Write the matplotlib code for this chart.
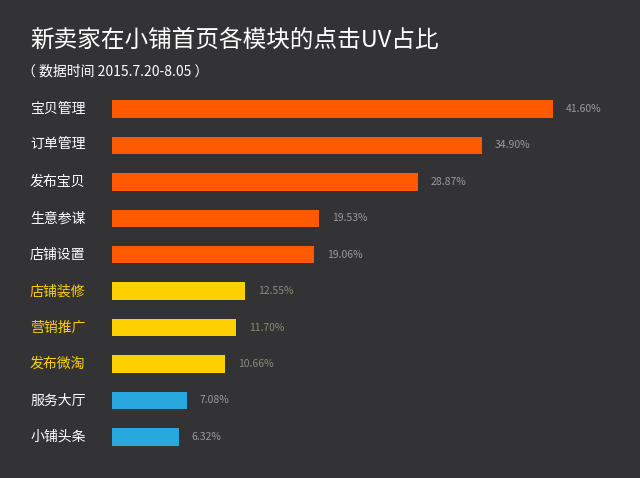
import matplotlib
matplotlib.use("Agg")
import matplotlib.pyplot as plt
from matplotlib import font_manager as fm

categories = ["宝贝管理", "订单管理", "发布宝贝", "生意参谋", "店铺设置",
              "店铺装修", "营销推广", "发布微淘", "服务大厅", "小铺头条"]
values = [41.60, 34.90, 28.87, 19.53, 19.06, 12.55, 11.70, 10.66, 7.08, 6.32]
groups = ["o", "o", "o", "o", "o", "y", "y", "y", "b", "b"]

cjk = None
for f in fm.findSystemFonts():
    if "CJK" in f and ("SC" in f or "Sans" in f):
        try:
            fm.fontManager.addfont(f)
            name = fm.FontProperties(fname=f).get_name()
            if cjk is None or "SC" in name:
                cjk = name
        except Exception:
            pass
plt.rcParams["font.family"] = [cjk or "Noto Sans CJK SC", "DejaVu Sans"]

bg = "#333335"
cmap = {"o": "#FF5A00", "y": "#FFD000", "b": "#29A8E0"}
lab = {"o": "#FFFFFF", "y": "#FFD000", "b": "#FFFFFF"}

fig = plt.figure(figsize=(6.4, 4.78), dpi=100, facecolor=bg)
ax = fig.add_axes([0.175, 0.048, 0.825, 0.762], facecolor=bg)
ys = list(range(len(categories)))
ax.barh(ys, values, height=0.48, color=[cmap[g] for g in groups])
ax.set_ylim(len(categories) - 0.5, -0.5)
ax.set_xlim(0, 49.8)
xl = -0.175 / 0.825 * 49.8 + 30 / 640 / 0.825 * 49.8
for y, v, g in zip(ys, values, groups):
    ax.text(v + 1.2, y, f"{v:.2f}%", va="center", ha="left", fontsize=7.5,
            color="#8a8a7a" if g == "y" else "#9a9a9a")
    ax.text(xl, y, categories[y], va="center", ha="left",
            fontsize=10, color=lab[g], clip_on=False)
ax.axis("off")
fig.text(30 / 640, 1 - 40 / 478, "新卖家在小铺首页各模块的点击UV占比", color="white",
         fontsize=17, va="center", ha="left")
fig.text(22 / 640, 1 - 72 / 478, "（ 数据时间 2015.7.20-8.05 ）", color="white",
         fontsize=10, va="center", ha="left")
fig.savefig("out.png", dpi=100, facecolor=bg)
